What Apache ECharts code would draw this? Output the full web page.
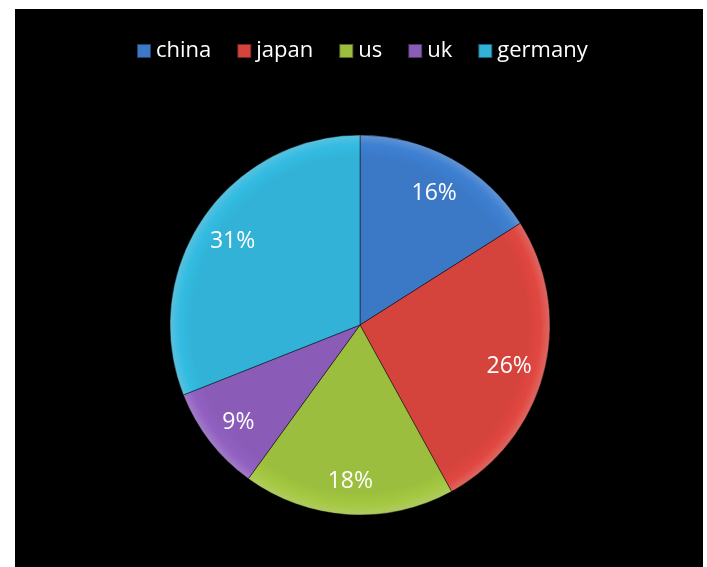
<!DOCTYPE html>
<html>
<head>
<meta charset="utf-8">
<script src="https://cdn.jsdelivr.net/npm/echarts@6/dist/echarts.min.js"></script>
<style>
html,body{margin:0;padding:0;background:#fff;}
#c{width:707px;height:567px;}
</style>
</head>
<body>
<div id="c"></div>
<script>
var categories = ['china', 'japan', 'us', 'uk', 'germany'];
var values = [16, 26, 18, 9, 31];
var colors = ['#3b79c7', '#d5433d', '#9cbe3e', '#8a5cb8', '#31b2d6'];

var CX = 360, CY = 325, R = 190;

function grad(c) {
  return {
    type: 'radial', x: CX, y: CY, r: R,
    colorStops: [
      { offset: 0, color: c },
      { offset: 0.88, color: c },
      { offset: 0.95, color: echarts.color.lift(c, -0.06) },
      { offset: 1, color: echarts.color.lift(c, 0.2) }
    ],
    global: true
  };
}

var mainData = categories.map(function (n, i) {
  return { name: n, value: values[i], itemStyle: { color: grad(colors[i]) } };
});

var chart = echarts.init(document.getElementById('c'), null, { renderer: 'canvas' });
chart.setOption({
  backgroundColor: '#ffffff',
  animation: false,
  graphic: [{
    type: 'rect', left: 15, top: 9, z: -10,
    shape: { width: 688, height: 558 },
    style: { fill: '#000000' }
  }],
  color: colors,
  legend: {
    data: categories.map(function (n, i) {
      return { name: n, itemStyle: { color: colors[i] } };
    }),
    top: 35,
    left: 131,
    itemWidth: 14,
    itemHeight: 14,
    itemGap: 25,
    icon: 'rect',
    textStyle: { color: '#ffffff', fontSize: 22, fontFamily: 'Open Sans' }
  },
  series: [{
    type: 'pie',
    center: [CX, CY],
    radius: [0, R],
    startAngle: 90,
    clockwise: true,
    silent: true,
    data: mainData,
    itemStyle: { borderColor: 'rgba(0,0,0,0.45)', borderWidth: 1 },
    label: { show: false },
    labelLine: { show: false }
  }, {
    type: 'pie',
    center: [CX, CY + 3],
    radius: [112, R],
    startAngle: 90,
    clockwise: true,
    silent: true,
    legendHoverLink: false,
    data: categories.map(function (n, i) {
      return { name: n, value: values[i], itemStyle: { color: 'rgba(0,0,0,0)' } };
    }),
    label: {
      show: true,
      position: 'inside',
      formatter: '{d}%',
      color: '#ffffff',
      fontSize: 23,
      fontFamily: 'Open Sans',
      textBorderWidth: 0
    },
    labelLine: { show: false }
  }]
});
</script>
</body>
</html>
